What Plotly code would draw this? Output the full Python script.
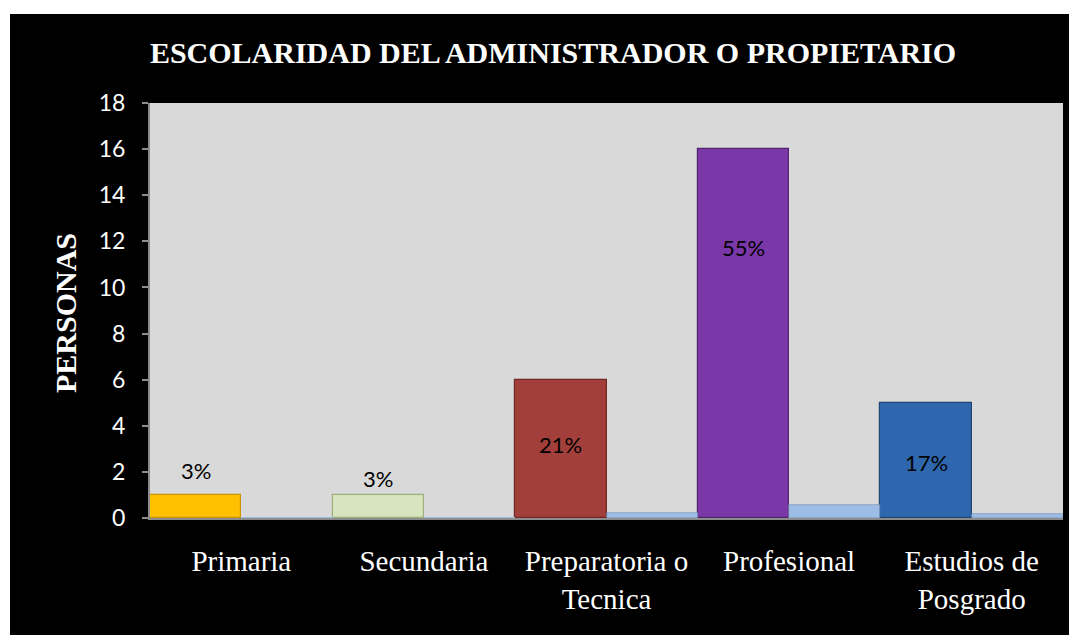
import plotly.graph_objects as go

categories = ["Primaria", "Secundaria", "Preparatoria o<br>Tecnica", "Profesional", "Estudios de<br>Posgrado"]
personas = [1, 1, 6, 16, 5]
porcentaje = [0.03, 0.03, 0.21, 0.55, 0.17]
label_text = ["3%", "3%", "21%", "55%", "17%"]
label_y = [2.05, 1.7, 3.2, 11.75, 2.4]
bar_colors = ["#FFC000", "#D7E4BD", "#A33F3B", "#7A37A8", "#2F67AE"]
bar_edges = ["#C99400", "#9FB07F", "#6E2826", "#53256F", "#1F4675"]
y_ticks = list(range(0, 19, 2))

fig = go.Figure()
fig.add_trace(go.Bar(
    x=categories, y=personas, name="Personas",
    marker=dict(color=bar_colors, line=dict(color=bar_edges, width=1.2)),
    hoverinfo="skip",
))
fig.add_trace(go.Bar(
    x=categories, y=porcentaje, name="Porcentaje",
    marker=dict(color="#9DBDE6",
                line=dict(color="#6E8CB3", width=[0.6 if v > 0.1 else 0 for v in porcentaje])),
    hoverinfo="skip",
))

for c, t, yv in zip(categories, label_text, label_y):
    fig.add_annotation(x=c, y=yv, xref="x", yref="y", text=t, showarrow=False,
                       xshift=-45.6, font=dict(family="Lato, Calibri, sans-serif", size=22, color="black"))

# page is offset by 8px body margin; work in figure pixels
W, H = 1077, 635
ml, mr, mt, mb = 142, 22, 95, 125
pw, ph = W - ml - mr, H - mt - mb

fig.add_annotation(text="<b>PERSONAS</b>", xref="paper", yref="paper",
                   x=(57 - ml) / pw, y=(mt + ph - 305) / ph, xanchor="center", yanchor="middle",
                   textangle=-90, showarrow=False,
                   font=dict(family="Liberation Serif, Times New Roman, serif", size=30, color="white"))

# white page margins around the black chart frame
fig.add_shape(type="rect", xref="paper", yref="paper", layer="below",
              x0=-ml / pw, x1=-(ml - 2) / pw, y0=-mb / ph, y1=(ph + mt) / ph,
              fillcolor="white", line=dict(width=0))
fig.add_shape(type="rect", xref="paper", yref="paper", layer="below",
              x0=-ml / pw, x1=(pw + mr) / pw, y0=(ph + mt - 6) / ph, y1=(ph + mt) / ph,
              fillcolor="white", line=dict(width=0))

fig.update_layout(
    width=W, height=H,
    margin=dict(l=ml, r=mr, t=mt, b=mb),
    paper_bgcolor="black",
    plot_bgcolor="#D9D9D9",
    barmode="group", bargap=0, bargroupgap=0,
    showlegend=False,
    title=dict(text="<b>ESCOLARIDAD DEL ADMINISTRADOR O PROPIETARIO</b>",
               x=545 / W, xanchor="center", y=1 - 44 / H, yanchor="middle",
               font=dict(family="Liberation Serif, Times New Roman, serif", size=30, color="white")),
    xaxis=dict(
        showgrid=False, showline=True, linecolor="#8C8C8C", linewidth=2,
        ticks="", ticklabelstandoff=16,
        tickfont=dict(family="Liberation Serif, Times New Roman, serif", size=29, color="white"),
        automargin=False, fixedrange=True,
    ),
    yaxis=dict(
        range=[0, 18], tickvals=y_ticks, showgrid=False, zeroline=False,
        showline=True, linecolor="#8C8C8C", linewidth=2,
        ticks="outside", ticklen=6, tickcolor="#8C8C8C", tickwidth=1.5,
        ticklabelstandoff=12,
        tickfont=dict(family="Lato, Calibri, sans-serif", size=23, color="white"),
        automargin=False, fixedrange=True,
    ),
)

fig.write_html("out.html")
